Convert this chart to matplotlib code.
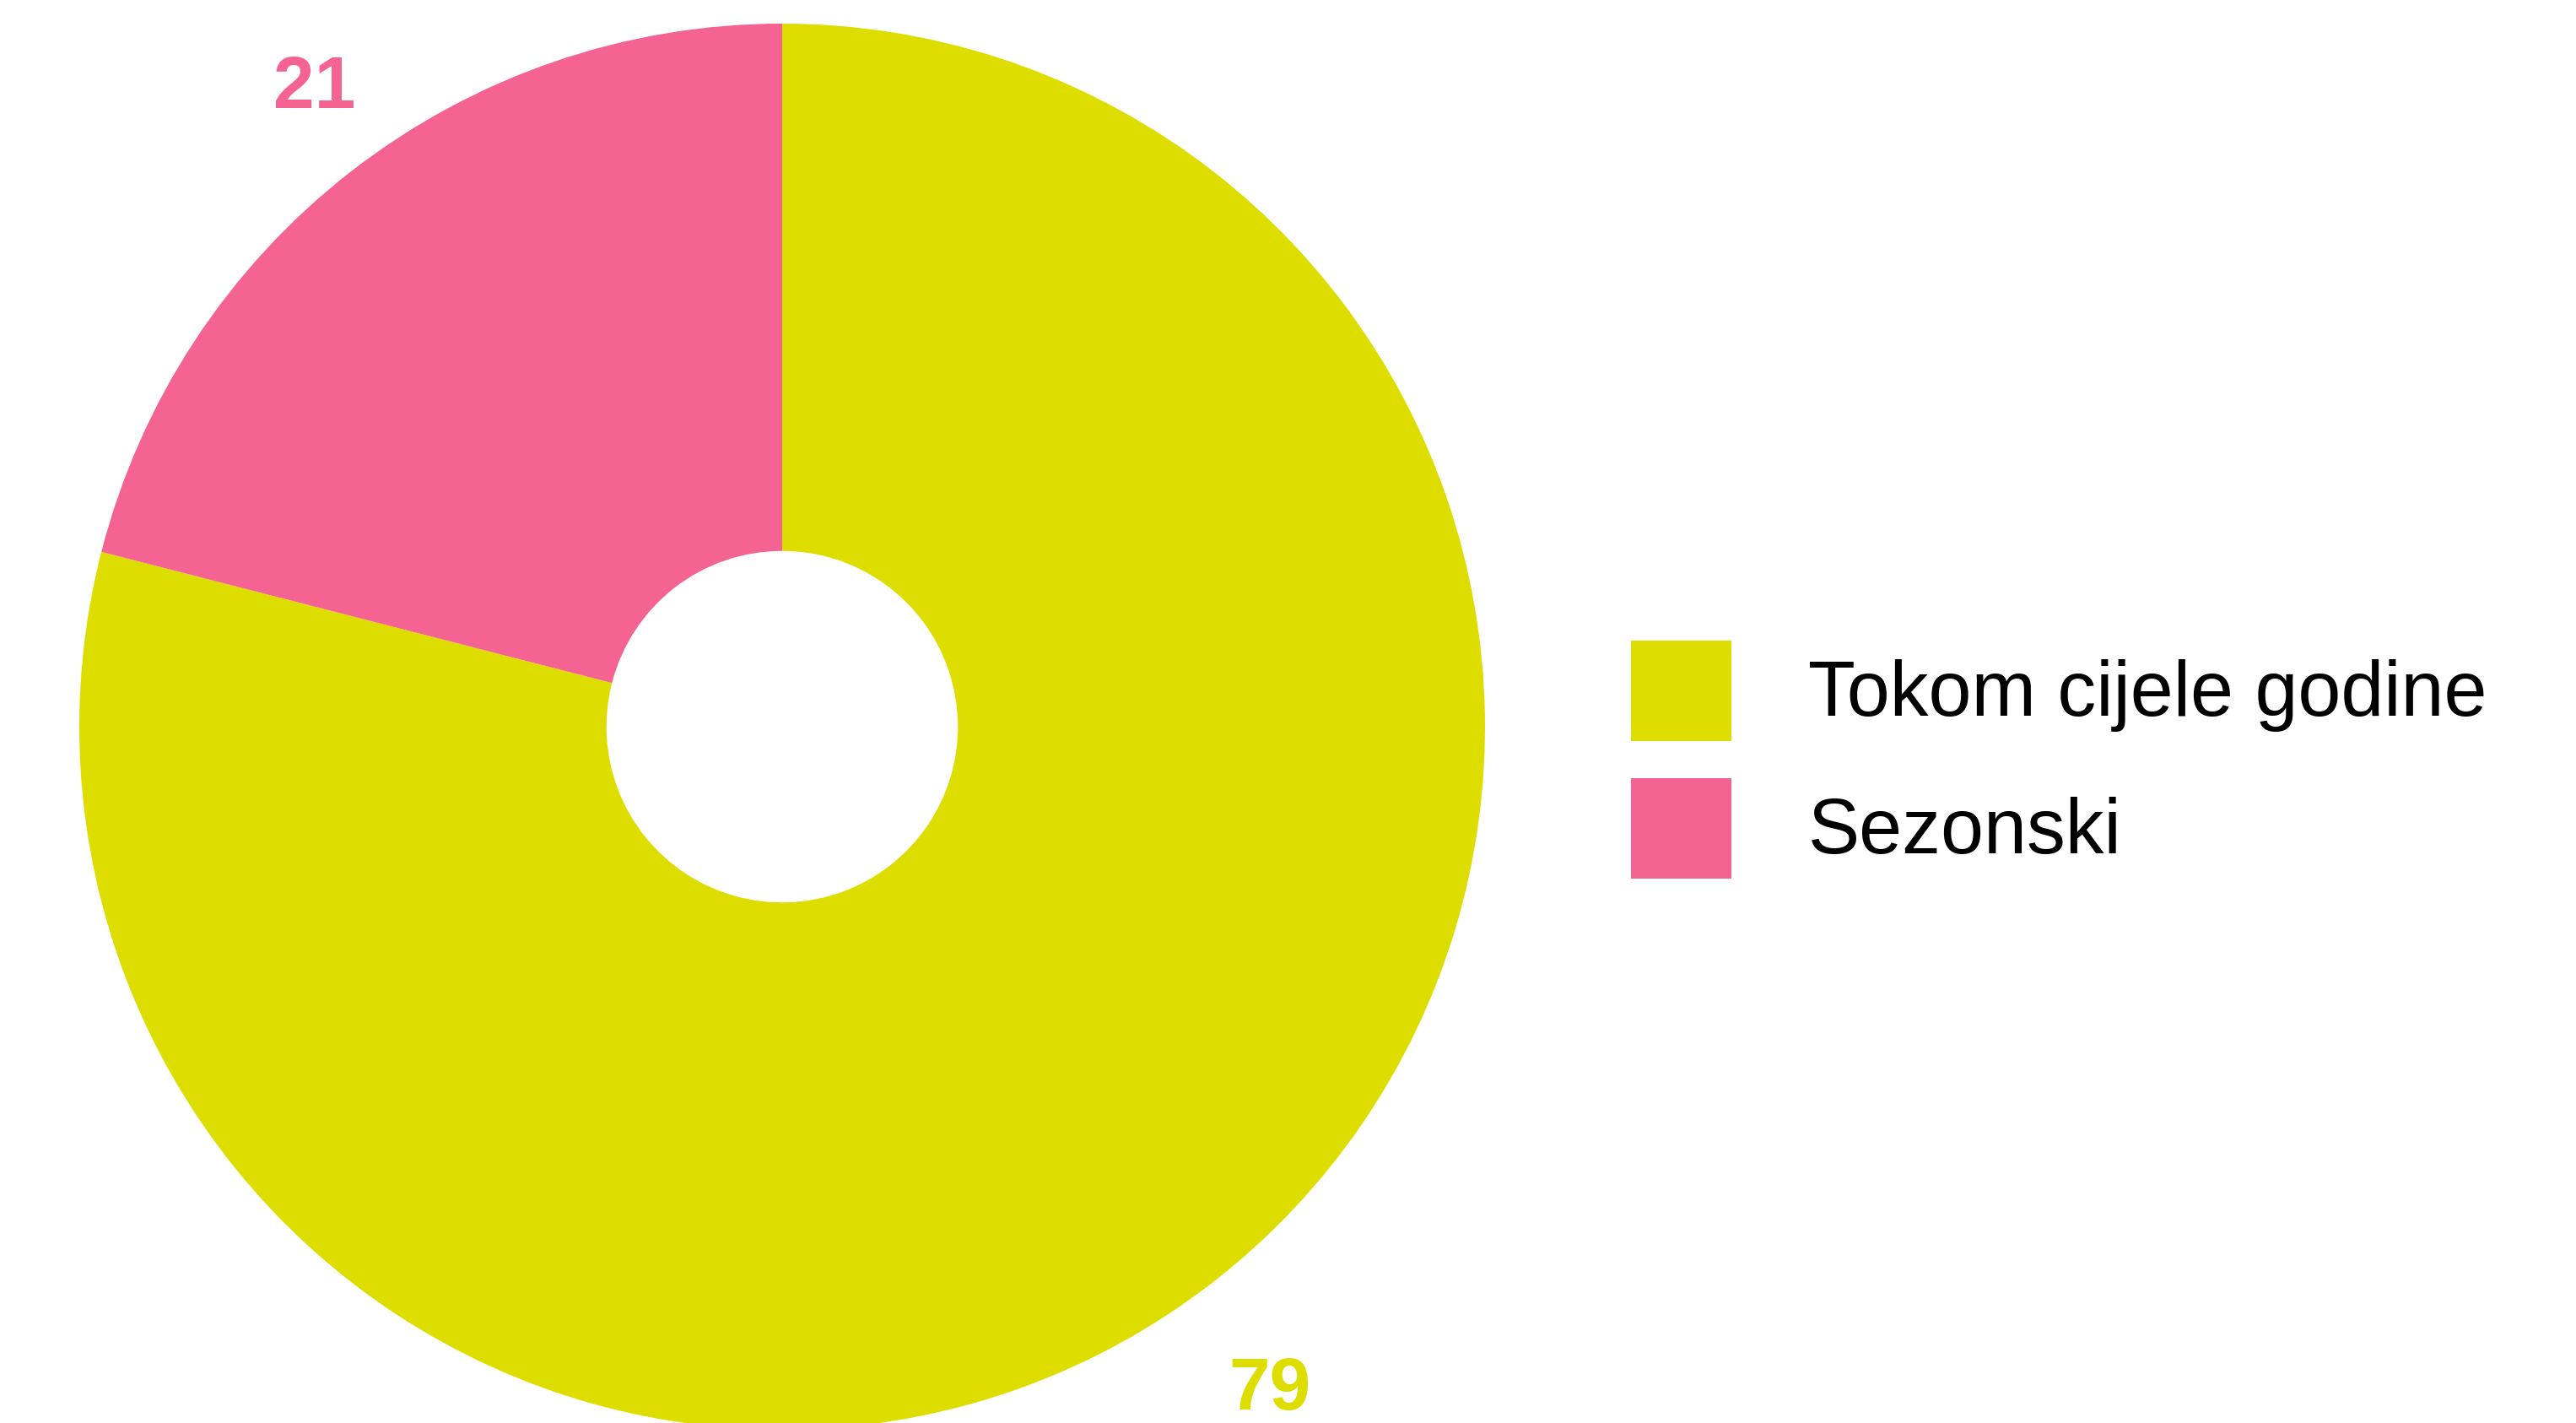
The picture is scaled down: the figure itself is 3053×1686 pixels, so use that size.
import numpy as np
import matplotlib.pyplot as plt

categories = ['Tokom cijele godine', 'Sezonski']
values = [79, 21]
colors = ['#DDDD00', '#F46391']

plt.rcParams['font.family'] = ['Liberation Sans', 'DejaVu Sans']

W, H = 3053, 1686
fig = plt.figure(figsize=(W / 100, H / 100), dpi=100)

# donut geometry in pixels
cx, cy, r = 927, 861, 833
ax = fig.add_axes([(cx - r) / W, (H - cy - r) / H, 2 * r / W, 2 * r / H])
wedges, _ = ax.pie(values, colors=colors, startangle=90, counterclock=False,
                   radius=1, wedgeprops=dict(width=0.75, linewidth=0))
ax.set_xlim(-1, 1)
ax.set_ylim(-1, 1)
ax.set_aspect('equal')
ax.axis('off')

# value labels outside the ring
label_dist = [1.172, 1.125]
for w, v, c, d in zip(wedges, values, colors, label_dist):
    ang = np.deg2rad((w.theta1 + w.theta2) / 2 - 1.5)
    ax.text(d * np.cos(ang), d * np.sin(ang), str(v), color=c,
            fontsize=63, fontweight='bold',
            ha='center', va='center', clip_on=False)

fig.legend(wedges, categories, loc='upper left',
           bbox_to_anchor=(1933 / W, (H - 759) / H),
           frameon=False, fontsize=66, borderpad=0, borderaxespad=0,
           handlelength=1.3, handleheight=1.62, handletextpad=0.99,
           labelspacing=0.48)

fig.savefig('out.png', dpi=100)
